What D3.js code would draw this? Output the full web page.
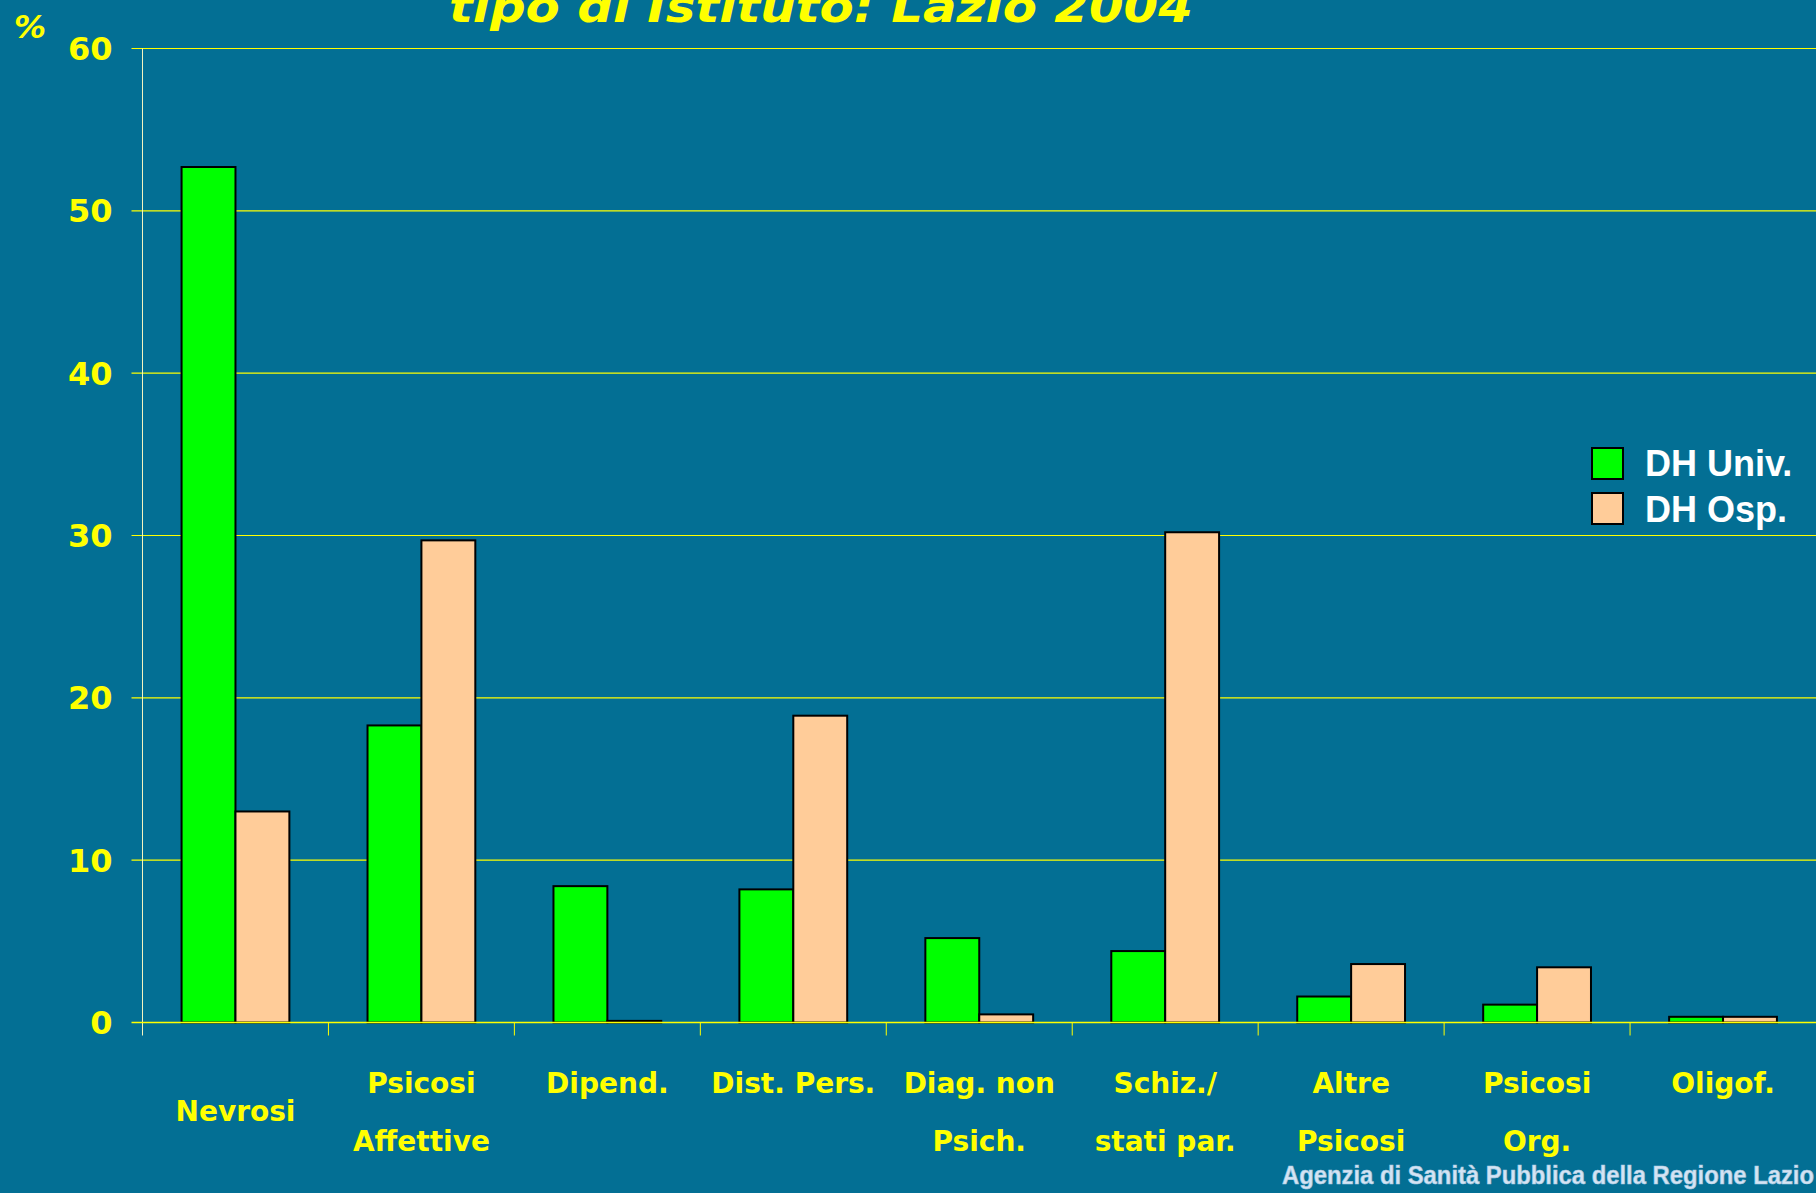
<!DOCTYPE html>
<html>
<head>
<meta charset="utf-8">
<script src="https://cdn.jsdelivr.net/npm/d3@7"></script>
<style>
  body { margin: 0; background: #036f94; overflow: hidden; }
  svg { display: block; }
</style>
</head>
<body>
<div id="chart"></div>
<script>
// categories (label lines) and the two series
var categories = ["Nevrosi", "Psicosi Affettive", "Dipend.", "Dist. Pers.", "Diag. non Psich.",
    "Schiz./ stati par.", "Altre Psicosi", "Psicosi Org.", "Oligof."];
var categoryLines = [["Nevrosi"], ["Psicosi", "Affettive"], ["Dipend."], ["Dist. Pers."],
    ["Diag. non", "Psich."], ["Schiz./", "stati par."], ["Altre", "Psicosi"], ["Psicosi", "Org."], ["Oligof."]];
var seriesNames = ["DH Univ.", "DH Osp."];
var dhUniv = [52.7, 18.3, 8.4, 8.2, 5.2, 4.4, 1.6, 1.1, 0.35];
var dhOsp = [13.0, 29.7, 0.1, 18.9, 0.5, 30.2, 3.6, 3.4, 0.35];
var yTicks = [0, 10, 20, 30, 40, 50, 60];

var svgWidth = 1816;
var svgHeight = 1193;

var margin = { top: 48.5, right: 0, bottom: 170.5, left: 142.5 };
var width = svgWidth - margin.left - margin.right;
var height = svgHeight - margin.top - margin.bottom;

var colors = ["#00ff00", "#ffcc99"];
var yellow = "#ffff00";

var svg = d3.select("#chart")
    .append("svg")
    .attr("width", svgWidth)
    .attr("height", svgHeight);

svg.append("rect")
    .attr("width", svgWidth)
    .attr("height", svgHeight)
    .attr("fill", "#036f94");

// title, cut off at the top like the slide
svg.append("text")
    .attr("x", 449)
    .attr("y", 22)
    .attr("textLength", 744)
    .attr("lengthAdjust", "spacingAndGlyphs")
    .style("font-family", "DejaVu Sans")
    .style("font-weight", "bold")
    .style("font-style", "italic")
    .style("font-size", "44px")
    .attr("fill", yellow)
    .text("tipo di Istituto: Lazio 2004");

svg.append("text")
    .attr("x", 14)
    .attr("y", 38)
    .style("font-family", "DejaVu Sans")
    .style("font-weight", "bold")
    .style("font-style", "italic")
    .style("font-size", "32px")
    .attr("fill", yellow)
    .text("%");

var chartGroup = svg.append("g")
    .attr("transform", `translate(${margin.left}, ${margin.top})`);

var x0 = d3.scaleBand()
    .domain(categories)
    .range([0, width]);

var x1 = d3.scaleBand()
    .domain(seriesNames)
    .range([0, x0.bandwidth()])
    .paddingOuter(0.725)
    .paddingInner(0);

var y = d3.scaleLinear()
    .domain([0, 60])
    .range([height, 0]);

// gridlines
chartGroup.append("g")
    .selectAll("line")
    .data(yTicks.filter(d => d > 0))
    .enter()
    .append("line")
    .attr("x1", -11)
    .attr("x2", width)
    .attr("y1", d => y(d))
    .attr("y2", d => y(d))
    .attr("stroke", yellow)
    .attr("stroke-width", 1.2);

// y labels
chartGroup.append("g")
    .selectAll("text")
    .data(yTicks)
    .enter()
    .append("text")
    .attr("x", -30)
    .attr("y", d => y(d))
    .attr("dy", "0.36em")
    .attr("text-anchor", "end")
    .style("font-family", "DejaVu Sans")
    .style("font-weight", "bold")
    .style("font-size", "32px")
    .attr("fill", yellow)
    .text(d => d);

// y axis line
chartGroup.append("line")
    .attr("x1", 0).attr("x2", 0)
    .attr("y1", 0).attr("y2", height + 13)
    .attr("stroke", "#f4f4c0")
    .attr("stroke-width", 1);

// bars
var data = categories.map((c, i) => ({ cat: c, vals: [dhUniv[i], dhOsp[i]] }));

var groups = chartGroup.selectAll(".grp")
    .data(data)
    .enter()
    .append("g")
    .attr("transform", d => `translate(${x0(d.cat)}, 0)`);

groups.selectAll("rect")
    .data(d => d.vals.map((v, j) => ({ key: seriesNames[j], v: v, j: j })))
    .enter()
    .append("rect")
    .attr("x", d => x1(d.key))
    .attr("y", d => y(d.v))
    .attr("width", x1.bandwidth())
    .attr("height", d => height - y(d.v))
    .attr("fill", d => colors[d.j])
    .attr("stroke", "#000")
    .attr("stroke-width", 2);

// x axis line and ticks
chartGroup.append("line")
    .attr("x1", -11).attr("x2", width)
    .attr("y1", height).attr("y2", height)
    .attr("stroke", yellow)
    .attr("stroke-width", 1.5);

chartGroup.append("g")
    .selectAll("line")
    .data(categories.slice(1))
    .enter()
    .append("line")
    .attr("x1", d => x0(d)).attr("x2", d => x0(d))
    .attr("y1", height).attr("y2", height + 13)
    .attr("stroke", yellow)
    .attr("stroke-width", 1);

// category labels
var labels = chartGroup.append("g")
    .selectAll("text")
    .data(categoryLines)
    .enter()
    .append("text")
    .attr("text-anchor", "middle")
    .attr("transform", (d, i) => `translate(${x0(categories[i]) + x0.bandwidth() / 2}, ${height + 70 + (i === 0 ? 28 : 0)})`)
    .style("font-family", "DejaVu Sans")
    .style("font-weight", "bold")
    .style("font-size", "28px")
    .attr("fill", yellow);

labels.selectAll("tspan")
    .data(d => d)
    .enter()
    .append("tspan")
    .attr("x", 0)
    .attr("dy", (d, i) => i === 0 ? 0 : 58)
    .text(d => d);

// legend
var legend = svg.append("g")
    .attr("transform", "translate(1592, 448)");

legend.selectAll("rect")
    .data(seriesNames)
    .enter()
    .append("rect")
    .attr("x", 0)
    .attr("y", (d, i) => i * 45)
    .attr("width", 31)
    .attr("height", 31)
    .attr("fill", (d, i) => colors[i])
    .attr("stroke", "#000")
    .attr("stroke-width", 2);

legend.selectAll("text")
    .data(seriesNames)
    .enter()
    .append("text")
    .attr("x", 53)
    .attr("y", (d, i) => 28 + i * 46)
    .style("font-family", "Liberation Sans, Arial, sans-serif")
    .style("font-weight", "bold")
    .style("font-size", "36px")
    .attr("fill", "#ffffff")
    .text(d => d);

// footer
svg.append("text")
    .attr("x", 1282)
    .attr("y", 1184)
    .attr("textLength", 532)
    .attr("lengthAdjust", "spacingAndGlyphs")
    .style("font-family", "Liberation Sans Narrow, Liberation Sans, sans-serif")
    .style("font-weight", "bold")
    .style("font-size", "26px")
    .attr("fill", "#d4e4f4")
    .attr("stroke", "#a8c8e0")
    .attr("stroke-width", 0.6)
    .text("Agenzia di Sanità Pubblica della Regione Lazio");
</script>
</body>
</html>
